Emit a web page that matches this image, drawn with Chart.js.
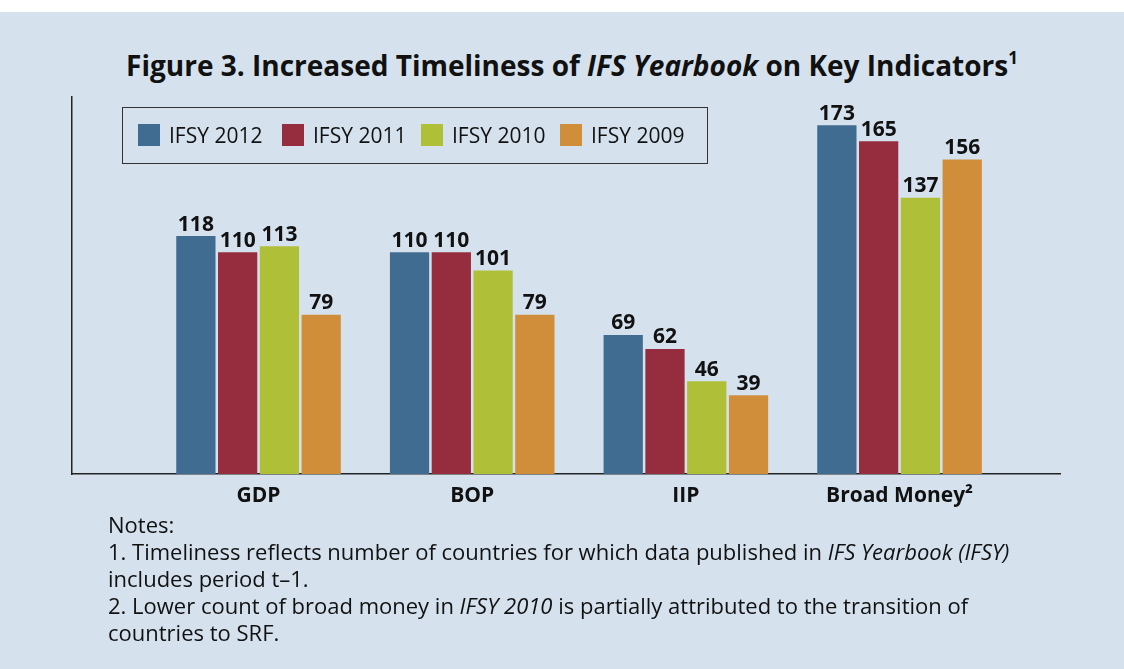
<!DOCTYPE html>
<html>
<head>
<meta charset="utf-8">
<script src="https://cdn.jsdelivr.net/npm/chart.js@4.4.1/dist/chart.umd.min.js"></script>
<style>
  html, body { margin: 0; padding: 0; background: #ffffff; }
  body { width: 1124px; height: 669px; position: relative; overflow: hidden; font-family: "Open Sans", "Noto Sans", sans-serif; color: #111; }
  #panel { position: absolute; left: 0; top: 12px; width: 1124px; height: 657px; background: #d5e2ee; }
  #title { position: absolute; left: 0; top: 38px; width: 1144px; text-align: center; font-weight: bold; font-size: 28px; line-height: 44px; white-space: nowrap; }
  #title sup { font-size: 17px; position: relative; top: -2px; }
  #chartBox { position: absolute; left: 0; top: 0; width: 1124px; height: 669px; }
  #legend { position: absolute; left: 122px; top: 107px; width: 586px; height: 57px; border: 1.5px solid #333; box-sizing: border-box; }
  .item { position: absolute; top: 16px; font-size: 21px; line-height: 22px; white-space: nowrap; }
  .sw { display: inline-block; width: 22px; height: 22px; vertical-align: top; margin-right: 9px; }
  #notes { position: absolute; left: 108px; top: 511px; font-size: 22px; line-height: 27px; white-space: nowrap; }
</style>
</head>
<body>
<div id="panel"></div>
<div id="title">Figure 3. Increased Timeliness of <i>IFS Yearbook</i> on Key Indicators<sup>1</sup></div>
<div id="chartBox"><canvas id="chart" width="1124" height="669"></canvas></div>
<div id="legend"></div>
<div id="notes">
  Notes:<br>
  1. Timeliness reflects number of countries for which data published in <i>IFS Yearbook (IFSY)</i><br>
  includes period t–1.<br>
  2. Lower count of broad money in <i>IFSY 2010</i> is partially attributed to the transition of<br>
  countries to SRF.
</div>
<script>
const categories = ["GDP", "BOP", "IIP", "Broad Money²"];
const seriesNames = ["IFSY 2012", "IFSY 2011", "IFSY 2010", "IFSY 2009"];
const ifsy2012 = [118, 110, 69, 173];
const ifsy2011 = [110, 110, 62, 165];
const ifsy2010 = [113, 101, 46, 137];
const ifsy2009 = [79, 79, 39, 156];
const colors = ["#416c91", "#962d3e", "#afbf38", "#d18e3a"];

const allSeries = [ifsy2012, ifsy2011, ifsy2010, ifsy2009];

// bars sit on a linear axis (1..4) so the axis line can run past the groups
const datasets = allSeries.map((vals, i) => ({
  label: seriesNames[i],
  data: vals.map((v, j) => ({ x: j + 1, y: v })),
  backgroundColor: colors[i],
  categoryPercentage: 0.782,
  barPercentage: 0.94
}));

const valueLabels = {
  id: "valueLabels",
  afterDatasetsDraw(chart) {
    const ctx = chart.ctx;
    ctx.save();
    ctx.font = "bold 21px 'Open Sans', sans-serif";
    ctx.fillStyle = "#111";
    ctx.textAlign = "center";
    ctx.textBaseline = "bottom";
    chart.data.datasets.forEach((ds, i) => {
      chart.getDatasetMeta(i).data.forEach((bar, j) => {
        ctx.fillText(ds.data[j].y, bar.x, bar.y - 1);
      });
    });
    ctx.restore();
  }
};

new Chart(document.getElementById("chart"), {
  type: "bar",
  data: { datasets: datasets },
  options: {
    responsive: false,
    animation: false,
    layout: { padding: { left: 72, top: 97, right: 64, bottom: 155 } },
    plugins: { legend: { display: false }, tooltip: { enabled: false } },
    scales: {
      x: {
        type: "linear",
        offset: false,
        min: 0.127,
        max: 4.751,
        grid: { display: false, drawTicks: false, offset: false },
        border: { display: true, color: "#222", width: 1.5 },
        afterBuildTicks: (scale) => {
          scale.ticks = categories.map((c, i) => ({ value: i + 1 }));
        },
        afterFit: (scale) => { scale.height = 40; },
        ticks: {
          padding: 9,
          color: "#111",
          font: { family: "'Open Sans', sans-serif", size: 21, weight: "bold" },
          callback: (v) => categories[v - 1] || ""
        }
      },
      y: {
        min: 0,
        max: 187,
        grid: { display: false, drawTicks: false },
        border: { display: true, color: "#222", width: 1.5 },
        ticks: { display: false },
        afterFit: (scale) => { scale.width = 0; }
      }
    }
  },
  plugins: [valueLabels]
});

// boxed legend inside the plot
const legendPos = [138, 282, 421, 560];
const legend = document.getElementById("legend");
seriesNames.forEach((name, i) => {
  const d = document.createElement("div");
  d.className = "item";
  d.style.left = (legendPos[i] - 123) + "px";
  d.innerHTML = '<span class="sw" style="background:' + colors[i] + '"></span>' + name;
  legend.appendChild(d);
});
</script>
</body>
</html>
